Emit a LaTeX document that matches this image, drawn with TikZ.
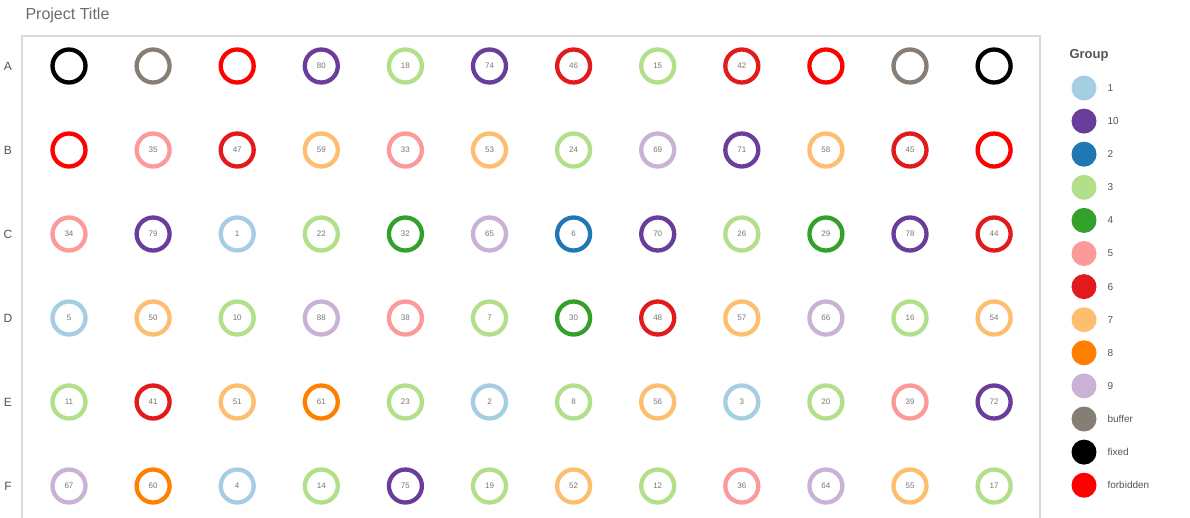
\documentclass[tikz,border=0pt]{standalone}
\usepackage{fontspec}
\setmainfont{Liberation Sans}
\definecolor{g1}{HTML}{A6CEE3}
\definecolor{g2}{HTML}{1F78B4}
\definecolor{g3}{HTML}{B2DF8A}
\definecolor{g4}{HTML}{33A02C}
\definecolor{g5}{HTML}{FB9A99}
\definecolor{g6}{HTML}{E31A1C}
\definecolor{g7}{HTML}{FDBF6F}
\definecolor{g8}{HTML}{FF7F00}
\definecolor{g9}{HTML}{CAB2D6}
\definecolor{g10}{HTML}{6A3D9A}
\definecolor{gbuffer}{HTML}{867E74}
\definecolor{gfixed}{HTML}{000000}
\definecolor{gforbidden}{HTML}{FF0000}
\definecolor{txtgray}{HTML}{555555}
\definecolor{framegray}{HTML}{D9D9D9}
\tikzset{
  well/.style={circle, draw=#1, line width=4.3pt, fill=white, minimum size=33pt, inner sep=0pt, font=\fontsize{8}{9}\selectfont, text=txtgray!80},
  legdot/.style={circle, fill=#1, minimum size=25pt, inner sep=0pt},
  legtxt/.style={anchor=west, font=\fontsize{10}{12}\selectfont, text=txtgray},
  rowlab/.style={font=\fontsize{12}{14}\selectfont, text=txtgray},
}
\begin{document}
\begin{tikzpicture}[x=1pt, y=-1pt]
\useasboundingbox (0,0) rectangle (1190,517);
\fill[white] (0,0) rectangle (1190,517);
\node[anchor=west, font=\fontsize{16}{18}\selectfont, text=txtgray!85] (title) at (22,15) {Project Title};
\draw[framegray, line width=1.2pt] (22,530) -- (22,36) -- (1040,36) -- (1040,530);
% row labels
\foreach \r [count=\j from 0] in {A,B,C,D,E,F}
  \node[rowlab] (lab\r) at (8,66+84*\j) {\r};
% wells
\foreach \r/\row [count=\j from 0] in {
 A/{fixed/,buffer/,forbidden/,10/80,3/18,10/74,6/46,3/15,6/42,forbidden/,buffer/,fixed/},
 B/{forbidden/,5/35,6/47,7/59,5/33,7/53,3/24,9/69,10/71,7/58,6/45,forbidden/},
 C/{5/34,10/79,1/1,3/22,4/32,9/65,2/6,10/70,3/26,4/29,10/78,6/44},
 D/{1/5,7/50,3/10,9/88,5/38,3/7,4/30,6/48,7/57,9/66,3/16,7/54},
 E/{3/11,6/41,7/51,8/61,3/23,1/2,3/8,7/56,1/3,3/20,5/39,10/72},
 F/{9/67,8/60,1/4,3/14,10/75,3/19,7/52,3/12,5/36,9/64,7/55,3/17}}
{
  \foreach \g/\n [count=\i from 0] in \row
    \node[well=g\g] (w\r\i) at (69+84.1*\i, 66+84*\j) {\n};
}
% legend
\node[anchor=west, font=\bfseries\fontsize{13}{15}\selectfont, text=txtgray] (legtitle) at (1066,55) {Group};
\foreach \g/\t [count=\k from 0] in {1/1,10/10,2/2,3/3,4/4,5/5,6/6,7/7,8/8,9/9,buffer/buffer,fixed/fixed,forbidden/forbidden}
{
  \node[legdot=g\g] (ld\k) at (1084, 88+33.1*\k) {};
  \node[legtxt] (lt\k) at (1104, 88+33.1*\k) {\t};
}
\end{tikzpicture}
\end{document}
